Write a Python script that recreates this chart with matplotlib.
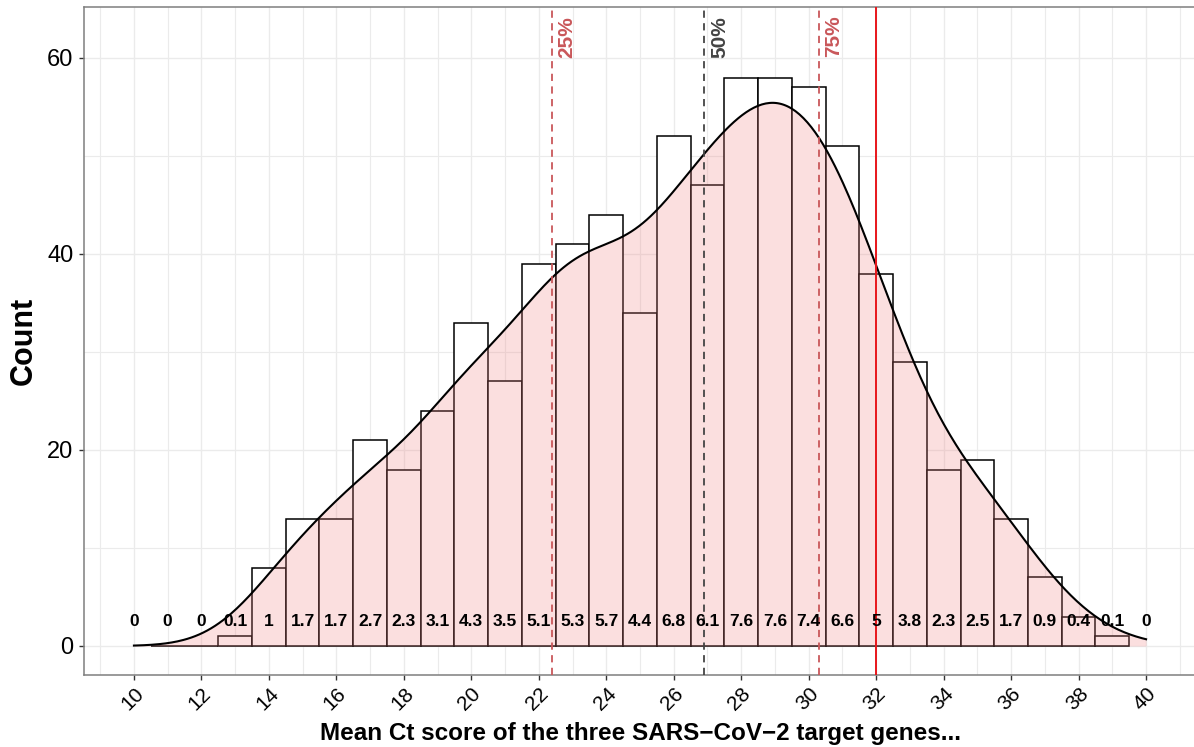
import matplotlib
matplotlib.use("Agg")
import matplotlib.pyplot as plt
import numpy as np

plt.rcParams['font.family'] = ['Liberation Sans', 'DejaVu Sans']

# histogram bins of mean Ct (binwidth 1), centres 10..40
bin_centers = np.arange(10, 41)
counts = [0, 0, 0, 1, 8, 13, 13, 21, 18, 24, 33, 27, 39, 41, 44, 34,
          52, 47, 58, 58, 57, 51, 38, 29, 18, 19, 13, 7, 3, 1, 0]

# quartiles of the Ct distribution and the positivity cut-off
quartile_pos = [22.38, 26.91, 30.30]
quartile_names = ["25%", "50%", "75%"]
quartile_colors = ["#C9575A", "#444444", "#C9575A"]
cutoff = 32

x_limits = (10, 40)

counts = np.array(counts)
n = counts.sum()
pct = 100 * counts / n

def fmt_pct(v):
    s = f"{v:.1f}"
    return s[:-2] if s.endswith(".0") else s

# density of the (binned) values, scaled to counts like ggplot's ..count..
values = np.repeat(bin_centers, counts).astype(float)
sd = values.std(ddof=1)
iqr = np.subtract(*np.percentile(values, [75, 25]))
bw = 0.9 * min(sd, iqr / 1.34) * n ** -0.2
grid = np.linspace(x_limits[0], x_limits[1], 512)
dens = np.exp(-0.5 * ((grid[:, None] - values[None, :]) / bw) ** 2).sum(axis=1)
dens = dens / (bw * np.sqrt(2 * np.pi))  # count-scaled, binwidth = 1

fig = plt.figure(figsize=(11.94, 7.47), dpi=100)
ax = fig.add_axes([84 / 1194, 72 / 747, 1112 / 1194, 668 / 747])

ax.set_xlim(8.52, 41.48)
ax.set_ylim(-2.96, 65.2)

# grid like theme_bw
ax.set_xticks(np.arange(10, 41, 2))
ax.set_xticks(np.arange(9, 42, 1), minor=True)
ax.set_yticks([0, 20, 40, 60])
ax.set_yticks([10, 30, 50], minor=True)
ax.grid(which="major", color="#EBEBEB", lw=1.0, zorder=0)
ax.grid(which="minor", color="#EBEBEB", lw=0.8, zorder=0)
ax.set_axisbelow(True)

# end bins straddle the 10-40 limits, so (as in ggplot) they are dropped
inside = (bin_centers - 0.5 >= x_limits[0]) & (bin_centers + 0.5 <= x_limits[1])
ax.bar(bin_centers[inside], counts[inside], width=1, facecolor="white",
       edgecolor="black", linewidth=1.1, zorder=2)

ax.fill_between(grid, dens, 0, color="#F08080", alpha=0.25, lw=0, zorder=3)
ax.plot(grid, dens, color="black", lw=1.5, zorder=4)

for xc, p in zip(bin_centers, pct):
    ax.text(xc, 2.45, fmt_pct(p), ha="center", va="center", fontsize=12.5,
            fontweight="bold", color="black", zorder=6)

for q, name, col in zip(quartile_pos, quartile_names, quartile_colors):
    ax.axvline(q, color=col, lw=1.3, ls=(0, (4, 3)), zorder=5)
    ax.text(q + 0.45, 64.3, name, rotation=90, ha="center", va="top",
            fontsize=15, fontweight="bold", color=col, zorder=6)

ax.axvline(cutoff, color="#E8161B", lw=1.4, zorder=5)

for s in ax.spines.values():
    s.set_color("#7F7F7F")
    s.set_linewidth(1.1)

ax.tick_params(axis="both", which="major", length=3.6, width=1.0, color="#333333")
ax.tick_params(axis="both", which="minor", length=0)
ax.tick_params(axis="y", labelsize=17, pad=4)
ax.tick_params(axis="x", labelsize=15, pad=3)
for lab in ax.get_xticklabels():
    lab.set_rotation(45)
    lab.set_ha("right")
    lab.set_va("top")
    lab.set_rotation_mode("anchor")

ax.set_xlabel("Mean Ct score of the three SARS\u2212CoV\u22122 target genes...",
              fontsize=17.5, fontweight="bold", labelpad=6)
ax.set_ylabel("Count", fontsize=22, fontweight="bold", labelpad=6)

fig.savefig("out.png", dpi=100)
